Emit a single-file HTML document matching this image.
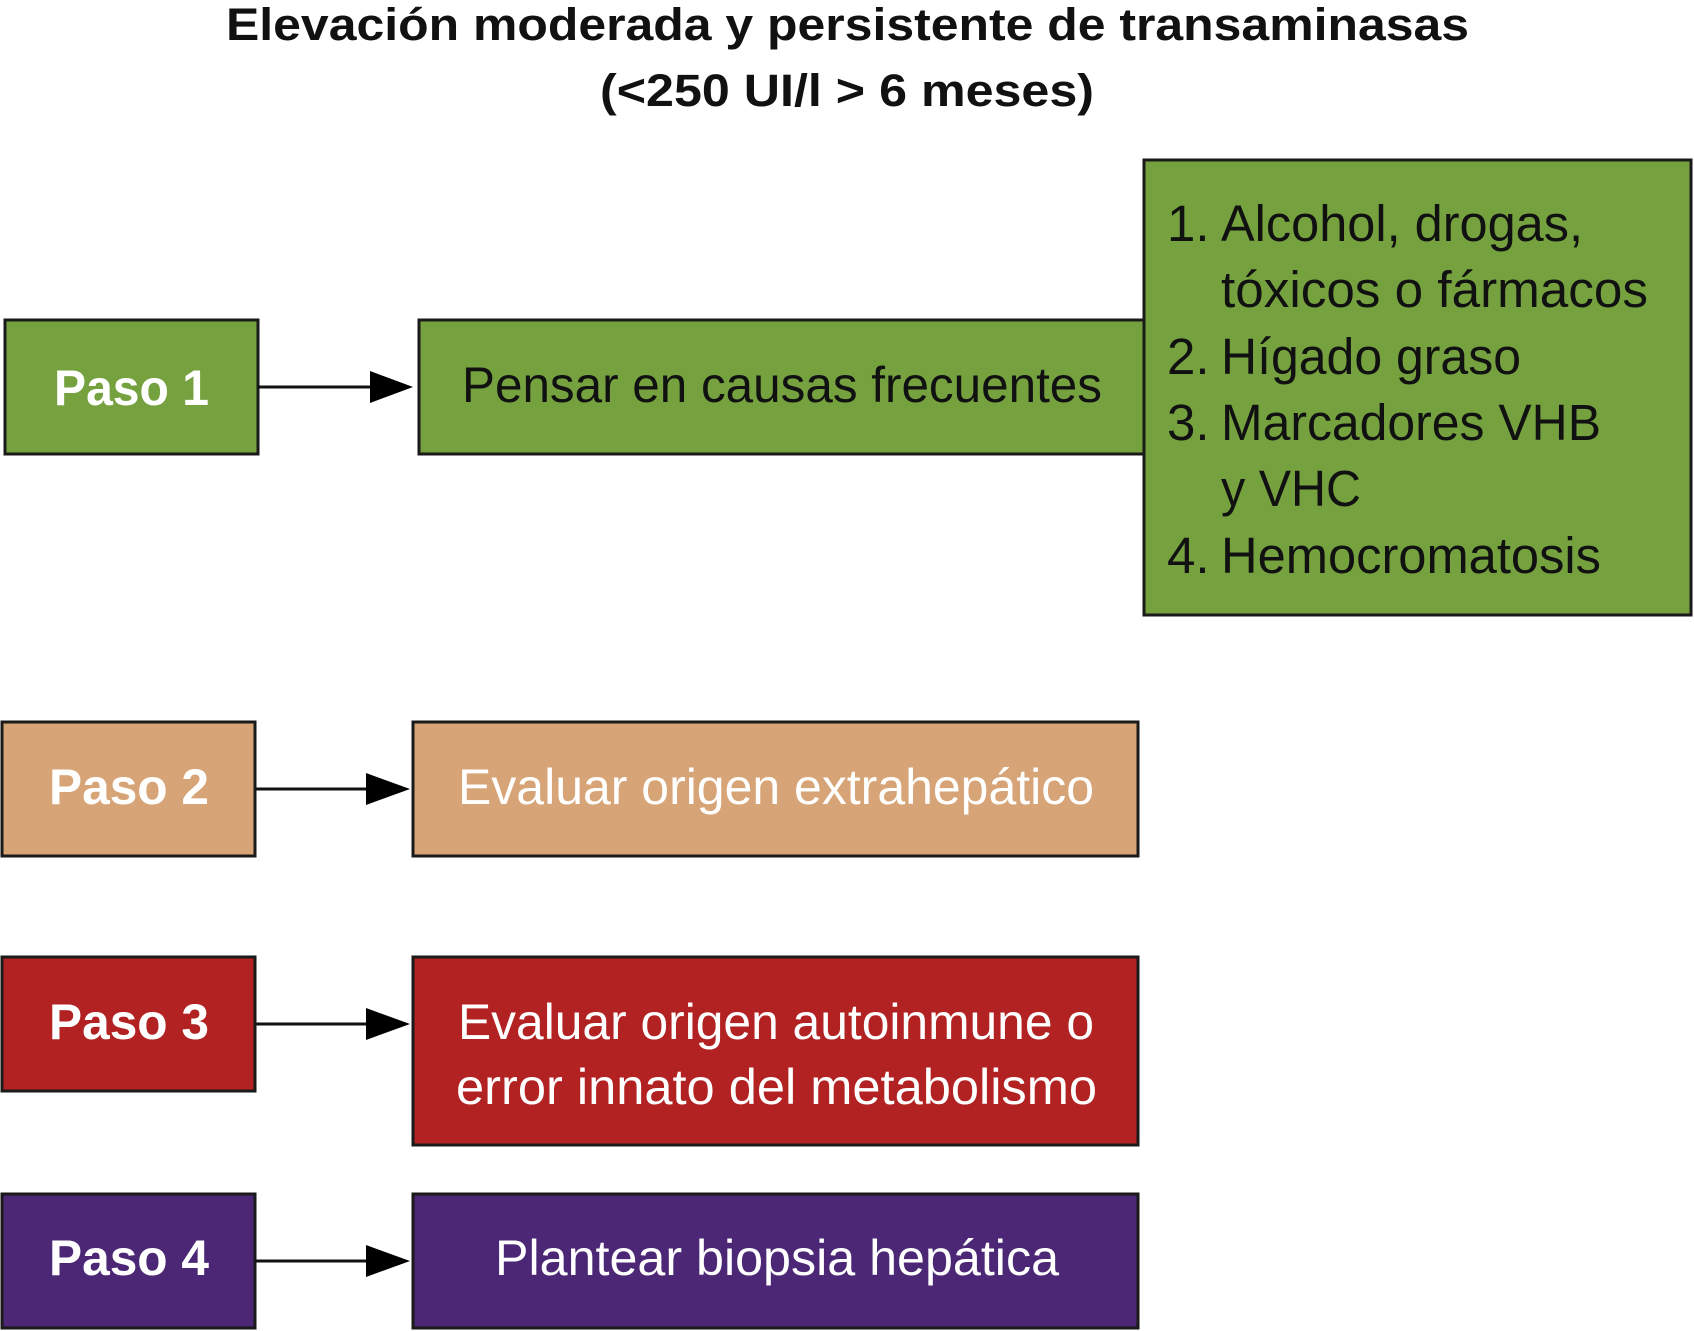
<!DOCTYPE html>
<html><head><meta charset="utf-8"><style>html,body{margin:0;padding:0;background:#fff}svg{display:block}</style></head><body>
<svg width="1694" height="1331" viewBox="0 0 1694 1331" xmlns="http://www.w3.org/2000/svg" font-family="Liberation Sans, sans-serif">
<g font-weight="bold" font-size="45" fill="#111">
<text x="226" y="40" textLength="1243" lengthAdjust="spacingAndGlyphs">Elevación moderada y persistente de transaminasas</text>
<text x="600" y="106" textLength="494" lengthAdjust="spacingAndGlyphs">(&lt;250 UI/l &gt; 6 meses)</text>
</g>
<g stroke="#1a1a1a" stroke-width="3">
<rect x="5" y="320" width="253" height="134" fill="#75a23f"/>
<rect x="419" y="320" width="725" height="134" fill="#75a23f"/>
<rect x="1144" y="160" width="547" height="455" fill="#75a23f"/>
<rect x="2" y="722" width="253" height="134" fill="#d6a476"/>
<rect x="413" y="722" width="725" height="134" fill="#d6a476"/>
<rect x="2" y="957" width="253" height="134" fill="#b22222"/>
<rect x="413" y="957" width="725" height="188" fill="#b22222"/>
<rect x="2" y="1194" width="253" height="134" fill="#4b2775"/>
<rect x="413" y="1194" width="725" height="134" fill="#4b2775"/>
</g>
<g stroke="#111" stroke-width="3">
<line x1="258" y1="387" x2="375" y2="387"/>
<line x1="255" y1="789" x2="370" y2="789"/>
<line x1="255" y1="1024" x2="370" y2="1024"/>
<line x1="255" y1="1261" x2="370" y2="1261"/>
</g>
<g fill="#000">
<polygon points="370,371 413,387 370,403"/>
<polygon points="366,773 410,789 366,805"/>
<polygon points="366,1008 410,1024 366,1040"/>
<polygon points="366,1245 410,1261 366,1277"/>
</g>
<g font-weight="bold" font-size="50" fill="#fff">
<text x="54" y="405" textLength="155" lengthAdjust="spacingAndGlyphs">Paso 1</text>
<text x="49" y="804" textLength="160" lengthAdjust="spacingAndGlyphs">Paso 2</text>
<text x="49" y="1039" textLength="160" lengthAdjust="spacingAndGlyphs">Paso 3</text>
<text x="49" y="1275" textLength="160" lengthAdjust="spacingAndGlyphs">Paso 4</text>
</g>
<g font-size="50">
<text x="462" y="402" fill="#111" textLength="640" lengthAdjust="spacingAndGlyphs">Pensar en causas frecuentes</text>
<text x="458" y="804" fill="#fff" textLength="636" lengthAdjust="spacingAndGlyphs">Evaluar origen extrahepático</text>
<text x="458" y="1039" fill="#fff" textLength="636" lengthAdjust="spacingAndGlyphs">Evaluar origen autoinmune o</text>
<text x="456" y="1104" fill="#fff" textLength="641" lengthAdjust="spacingAndGlyphs">error innato del metabolismo</text>
<text x="495" y="1275" fill="#fff" textLength="564" lengthAdjust="spacingAndGlyphs">Plantear biopsia hepática</text>
</g>
<g font-size="51" fill="#111">
<text x="1167" y="241">1.</text>
<text x="1221" y="241" textLength="362" lengthAdjust="spacingAndGlyphs">Alcohol, drogas,</text>
<text x="1221" y="307" textLength="427" lengthAdjust="spacingAndGlyphs">tóxicos o fármacos</text>
<text x="1167" y="374">2.</text>
<text x="1221" y="374" textLength="300" lengthAdjust="spacingAndGlyphs">Hígado graso</text>
<text x="1167" y="440">3.</text>
<text x="1221" y="440" textLength="380" lengthAdjust="spacingAndGlyphs">Marcadores VHB</text>
<text x="1221" y="506" textLength="140" lengthAdjust="spacingAndGlyphs">y VHC</text>
<text x="1167" y="573">4.</text>
<text x="1221" y="573" textLength="380" lengthAdjust="spacingAndGlyphs">Hemocromatosis</text>
</g>
</svg>
</body></html>
